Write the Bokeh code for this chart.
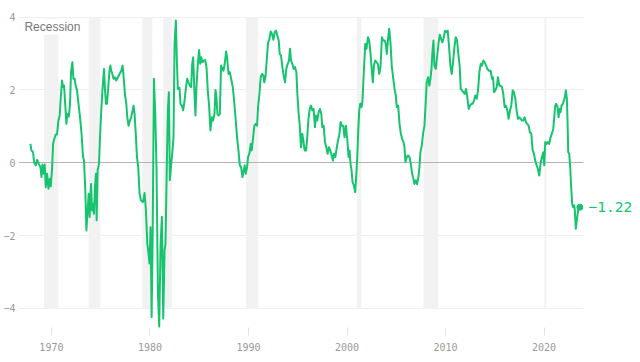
from bokeh.plotting import figure
from bokeh.models import Range1d, FixedTicker, Label, LinearAxis
from bokeh.embed import file_html
from bokeh.resources import INLINE

# ---- data ----
years = [
    1967.87, 1967.97, 1968.14, 1968.24, 1968.41, 1968.55, 1968.72, 1968.89, 1968.99, 1969.09,
    1969.22, 1969.32, 1969.43, 1969.56, 1969.70, 1969.83, 1969.93, 1970.07, 1970.17, 1970.30,
    1970.44, 1970.57, 1970.71, 1970.84, 1970.95, 1971.08, 1971.18, 1971.28, 1971.42, 1971.52,
    1971.62, 1971.76, 1971.89, 1971.99, 1972.13, 1972.23, 1972.36, 1972.46, 1972.60, 1972.77,
    1972.94, 1973.07, 1973.21, 1973.31, 1973.44, 1973.55, 1973.68, 1973.78, 1973.88, 1974.02,
    1974.12, 1974.22, 1974.32, 1974.42, 1974.52, 1974.59, 1974.69, 1974.83, 1974.93, 1975.06,
    1975.20, 1975.34, 1975.44, 1975.54, 1975.64, 1975.77, 1975.88, 1975.98, 1976.08, 1976.18,
    1976.31, 1976.45, 1976.58, 1976.75, 1976.92, 1977.09, 1977.23, 1977.33, 1977.46, 1977.60,
    1977.70, 1977.83, 1977.97, 1978.10, 1978.24, 1978.34, 1978.44, 1978.58, 1978.68, 1978.81,
    1978.95, 1979.08, 1979.29, 1979.46, 1979.59, 1979.73, 1979.86, 1979.96, 1980.06, 1980.17,
    1980.27, 1980.40, 1980.54, 1980.67, 1980.81, 1980.94, 1981.08, 1981.21, 1981.35, 1981.48,
    1981.58, 1981.72, 1981.82, 1981.92, 1982.02, 1982.16, 1982.29, 1982.39, 1982.50, 1982.63,
    1982.73, 1982.83, 1983.00, 1983.10, 1983.24, 1983.37, 1983.51, 1983.64, 1983.78, 1983.91,
    1984.05, 1984.18, 1984.29, 1984.39, 1984.52, 1984.62, 1984.72, 1984.86, 1984.99, 1985.10,
    1985.20, 1985.33, 1985.47, 1985.60, 1985.74, 1985.87, 1986.01, 1986.14, 1986.28, 1986.41,
    1986.55, 1986.65, 1986.75, 1986.85, 1986.95, 1987.09, 1987.22, 1987.36, 1987.46, 1987.59,
    1987.73, 1987.83, 1987.97, 1988.10, 1988.24, 1988.41, 1988.57, 1988.71, 1988.84, 1988.98,
    1989.12, 1989.25, 1989.39, 1989.52, 1989.62, 1989.72, 1989.86, 1989.96, 1990.09, 1990.23,
    1990.33, 1990.47, 1990.60, 1990.74, 1990.87, 1990.97, 1991.11, 1991.24, 1991.38, 1991.51,
    1991.61, 1991.72, 1991.85, 1991.99, 1992.12, 1992.26, 1992.39, 1992.53, 1992.66, 1992.80,
    1992.93, 1993.07, 1993.17, 1993.30, 1993.44, 1993.57, 1993.71, 1993.84, 1993.98, 1994.11,
    1994.21, 1994.32, 1994.45, 1994.59, 1994.72, 1994.86, 1994.96, 1995.09, 1995.19, 1995.33,
    1995.46, 1995.57, 1995.70, 1995.84, 1995.94, 1996.07, 1996.21, 1996.34, 1996.48, 1996.61,
    1996.75, 1996.85, 1996.98, 1997.12, 1997.25, 1997.39, 1997.49, 1997.63, 1997.76, 1997.90,
    1998.03, 1998.17, 1998.30, 1998.44, 1998.57, 1998.67, 1998.81, 1998.94, 1999.08, 1999.21,
    1999.35, 1999.48, 1999.62, 1999.75, 1999.89, 2000.02, 2000.16, 2000.26, 2000.36, 2000.46,
    2000.56, 2000.70, 2000.83, 2000.93, 2001.04, 2001.14, 2001.24, 2001.34, 2001.47, 2001.57,
    2001.71, 2001.85, 2001.98, 2002.12, 2002.25, 2002.39, 2002.52, 2002.62, 2002.73, 2002.86,
    2003.00, 2003.13, 2003.27, 2003.40, 2003.54, 2003.67, 2003.81, 2003.94, 2004.04, 2004.18,
    2004.28, 2004.41, 2004.55, 2004.68, 2004.82, 2004.95, 2005.05, 2005.19, 2005.33, 2005.46,
    2005.59, 2005.73, 2005.83, 2005.93, 2006.07, 2006.20, 2006.34, 2006.47, 2006.61, 2006.74,
    2006.84, 2006.98, 2007.11, 2007.25, 2007.35, 2007.45, 2007.59, 2007.72, 2007.86, 2007.96,
    2008.09, 2008.23, 2008.36, 2008.47, 2008.57, 2008.67, 2008.77, 2008.87, 2009.01, 2009.14,
    2009.28, 2009.41, 2009.55, 2009.68, 2009.82, 2009.95, 2010.09, 2010.22, 2010.36, 2010.49,
    2010.63, 2010.76, 2010.90, 2011.03, 2011.17, 2011.30, 2011.44, 2011.54, 2011.67, 2011.81,
    2011.94, 2012.08, 2012.21, 2012.35, 2012.48, 2012.62, 2012.75, 2012.89, 2013.02, 2013.16,
    2013.30, 2013.43, 2013.57, 2013.70, 2013.84, 2013.97, 2014.11, 2014.24, 2014.41, 2014.58,
    2014.71, 2014.82, 2014.92, 2015.05, 2015.19, 2015.32, 2015.46, 2015.59, 2015.73, 2015.86,
    2016.00, 2016.13, 2016.27, 2016.40, 2016.54, 2016.67, 2016.81, 2016.94, 2017.08, 2017.21,
    2017.35, 2017.48, 2017.62, 2017.75, 2017.89, 2018.02, 2018.16, 2018.29, 2018.43, 2018.56,
    2018.70, 2018.84, 2018.97, 2019.10, 2019.24, 2019.37, 2019.51, 2019.64, 2019.78, 2019.92,
    2020.02, 2020.12, 2020.25, 2020.39, 2020.52, 2020.66, 2020.79, 2020.93, 2021.03, 2021.13,
    2021.23, 2021.37, 2021.47, 2021.57, 2021.67, 2021.77, 2021.91, 2022.01, 2022.11, 2022.21,
    2022.31, 2022.38, 2022.45, 2022.55, 2022.65, 2022.75, 2022.85, 2022.95, 2023.06, 2023.12,
    2023.22, 2023.36, 2023.49, 2023.63,
]

spread = [
    0.52, 0.34, 0.29, 0.02, -0.07, 0.08, -0.03, -0.12, -0.39, -0.05,
    -0.30, -0.05, -0.67, -0.30, -0.71, -0.44, -0.65, -0.16, 0.52, 0.66,
    0.78, 0.78, 1.16, 1.30, 1.80, 2.26, 2.08, 2.12, 1.53, 1.07,
    1.34, 1.27, 1.62, 2.49, 2.76, 2.31, 2.31, 2.12, 1.99, 1.57,
    1.16, 0.75, 0.16, 0.06, -0.76, -1.86, -1.31, -0.85, -1.49, -0.58,
    -1.31, -1.13, -1.40, -0.67, -0.30, -1.58, -0.21, -0.03, 0.70, 1.44,
    2.08, 2.58, 1.99, 1.62, 1.62, 2.08, 2.49, 2.67, 2.53, 2.44,
    2.31, 2.35, 2.26, 2.35, 2.44, 2.53, 2.67, 2.35, 1.89, 1.62,
    1.25, 1.02, 1.16, 1.25, 1.44, 1.57, 1.34, 0.70, 0.16, -0.12,
    -0.85, -1.03, -1.08, -0.83, -1.31, -2.22, -2.50, -2.77, -1.77, -4.24,
    -2.22, 2.31, 1.34, -0.21, -3.60, -4.51, -2.22, -1.49, -4.28, -2.41,
    -2.22, 0.06, 1.44, 1.94, -0.48, -0.03, 0.34, 0.70, 3.27, 3.91,
    2.81, 2.03, 2.06, 1.62, 1.57, 1.44, 1.71, 2.03, 2.31, 2.21,
    2.12, 2.08, 2.72, 2.90, 1.89, 1.30, 2.08, 2.72, 3.10, 2.72,
    2.90, 2.76, 2.81, 2.83, 2.63, 1.99, 1.53, 0.89, 1.25, 1.16,
    1.34, 2.00, 1.80, 1.34, 1.30, 1.34, 2.67, 2.58, 2.53, 2.72,
    3.06, 2.90, 2.44, 2.49, 2.31, 2.08, 1.62, 1.16, 0.70, 0.34,
    -0.07, -0.12, -0.39, -0.21, -0.07, -0.30, -0.12, 0.16, 0.25, 0.52,
    0.34, 0.70, 1.02, 1.07, 1.02, 1.53, 1.89, 2.35, 2.44, 2.40,
    2.21, 2.35, 2.81, 3.31, 3.40, 3.61, 3.54, 3.38, 3.59, 3.63,
    3.49, 3.36, 2.99, 2.95, 2.63, 2.40, 2.21, 2.58, 2.72, 2.81,
    3.13, 2.81, 2.72, 2.58, 2.63, 2.49, 1.89, 1.34, 1.07, 0.43,
    0.80, 0.61, 0.34, 0.34, 0.61, 1.16, 1.48, 1.57, 1.44, 1.48,
    0.98, 1.30, 1.16, 1.39, 1.48, 1.34, 0.98, 1.02, 0.57, 0.43,
    0.25, 0.43, 0.34, 0.20, 0.06, 0.25, 0.16, 0.38, 0.61, 0.75,
    1.12, 1.02, 1.02, 0.70, 1.02, 0.66, 0.16, 0.34, -0.03, -0.21,
    -0.53, -0.62, -0.81, -0.39, 0.16, 0.89, 1.44, 1.62, 1.53, 1.71,
    2.53, 3.27, 3.13, 3.45, 3.36, 2.99, 2.53, 2.21, 2.67, 2.81,
    2.76, 2.72, 2.44, 2.63, 3.45, 3.36, 3.36, 3.27, 2.99, 3.45,
    3.68, 3.31, 2.63, 2.35, 2.03, 1.85, 1.53, 1.57, 1.07, 0.80,
    0.66, 0.57, 0.43, 0.02, 0.16, 0.20, 0.16, -0.03, -0.30, -0.44,
    -0.58, -0.48, -0.59, -0.39, -0.12, 0.29, 0.48, 0.80, 1.02, 1.53,
    2.21, 2.35, 2.12, 2.31, 2.58, 3.04, 3.36, 2.67, 2.58, 2.90,
    3.27, 3.52, 3.40, 3.31, 3.45, 3.63, 3.59, 3.63, 3.17, 2.67,
    2.44, 2.76, 3.17, 3.45, 3.36, 2.99, 2.63, 2.03, 1.99, 1.94,
    1.89, 2.03, 1.80, 1.48, 1.57, 1.62, 1.62, 1.71, 1.85, 1.76,
    1.99, 2.49, 2.72, 2.67, 2.81, 2.76, 2.67, 2.58, 2.53, 2.53,
    2.31, 2.35, 1.94, 1.99, 2.08, 2.35, 2.12, 2.12, 2.08, 1.89,
    1.53, 1.57, 1.44, 1.21, 1.44, 1.57, 1.99, 1.94, 1.76, 1.44,
    1.21, 1.25, 1.21, 1.16, 1.16, 1.25, 1.12, 1.07, 1.02, 0.84,
    0.80, 0.34, 0.25, 0.06, -0.07, -0.16, -0.35, -0.03, 0.16, 0.29,
    -0.07, 0.57, 0.52, 0.57, 0.52, 0.70, 0.80, 0.93, 1.25, 1.57,
    1.62, 1.53, 1.25, 1.48, 1.39, 1.57, 1.62, 1.71, 1.80, 1.99,
    1.76, 1.16, 0.29, 0.25, -0.12, -0.67, -1.13, -1.22, -1.17, -1.31,
    -1.81, -1.49, -1.26, -1.22,
]

recession_start = [1969.26, 1973.78, 1979.22, 1981.35, 1989.75, 2000.98, 2007.77, 2020.03]
recession_end = [1970.71, 1974.96, 1980.23, 1982.23, 1991.00, 2001.46, 2009.26, 2020.23]

x_ticks = [1970, 1980, 1990, 2000, 2010, 2020]
x_tick_labels = ["1970", "1980", "1990", "2000", "2010", "2020"]
y_ticks = [-4, -2, 0, 2, 4]
y_tick_labels = ["\u22124", "\u22122", "0", "2", "4"]
band_label = "Recession"

GREEN = "#16c46f"
MONO = "DejaVu Sans Mono"

p = figure(
    width=640, height=354,
    output_backend="svg", toolbar_location=None,
    x_range=Range1d(1966.66, 2024.0),
    y_range=Range1d(-4.525, 4.184),
    min_border_left=17, min_border_right=57,
    min_border_top=10, min_border_bottom=27,
)
p.outline_line_color = None
p.background_fill_color = "white"
p.border_fill_color = "white"

# grid
p.xgrid.visible = False
p.ygrid.ticker = FixedTicker(ticks=[t for t in y_ticks if t != 0])
p.ygrid.grid_line_color = "#eeeeee"
p.ygrid.grid_line_width = 1

# y axis
p.yaxis.ticker = FixedTicker(ticks=y_ticks)
p.yaxis.major_label_overrides = {t: l for t, l in zip(y_ticks, y_tick_labels)}
p.yaxis.axis_line_color = None
p.yaxis.major_tick_line_color = None
p.yaxis.major_tick_out = 0
p.yaxis.major_tick_in = 0
p.yaxis.minor_tick_line_color = None
p.yaxis.minor_tick_out = 0
p.yaxis.major_label_standoff = 3
p.yaxis.major_label_text_font = MONO
p.yaxis.major_label_text_font_size = "10px"
p.yaxis.major_label_text_color = "#9a9a9a"

# x axis
p.xaxis.ticker = FixedTicker(ticks=x_ticks)
p.xaxis.major_label_overrides = {t: l for t, l in zip(x_ticks, x_tick_labels)}
p.xaxis.axis_line_color = None
p.xaxis.major_tick_line_color = "#e2e2e2"
p.xaxis.major_tick_in = 0
p.xaxis.major_tick_out = 8
p.xaxis.minor_tick_line_color = None
p.xaxis.minor_tick_out = 0
p.xaxis.major_label_standoff = 7
p.xaxis.major_label_text_font = MONO
p.xaxis.major_label_text_font_size = "10px"
p.xaxis.major_label_text_color = "#9a9a9a"

# end-value label, drawn as a right-hand axis with a single tick
end_text = f"{spread[-1]:.2f}".replace("-", "\u2212")
end_axis = LinearAxis(ticker=FixedTicker(ticks=[spread[-1]]),
                      major_label_overrides={spread[-1]: end_text},
                      axis_line_color=None, major_tick_line_color=None,
                      major_tick_out=0, major_tick_in=0,
                      minor_tick_line_color=None, minor_tick_out=0,
                      major_label_standoff=5,
                      major_label_text_font=MONO, major_label_text_font_size="14.5px",
                      major_label_text_color=GREEN)
p.add_layout(end_axis, "right")

# recession bands
p.quad(left=recession_start, right=recession_end, bottom=y_ticks[0], top=y_ticks[-1],
       fill_color="#f2f2f2", line_color=None)

# zero line
p.hspan(y=[0], line_color="#b4b4b4", line_width=1)

# series
p.line(years, spread, line_color=GREEN, line_width=2, line_join="round")
p.scatter([years[-1]], [spread[-1]], size=6, color=GREEN)

p.add_layout(Label(x=1967.16, y=3.96, text=band_label,
                   text_baseline="top", text_align="left",
                   text_font="Liberation Sans", text_font_size="12px",
                   text_color="#777777",
                   background_fill_color="white", padding=1))

open("out.html", "w").write(file_html(p, INLINE))
